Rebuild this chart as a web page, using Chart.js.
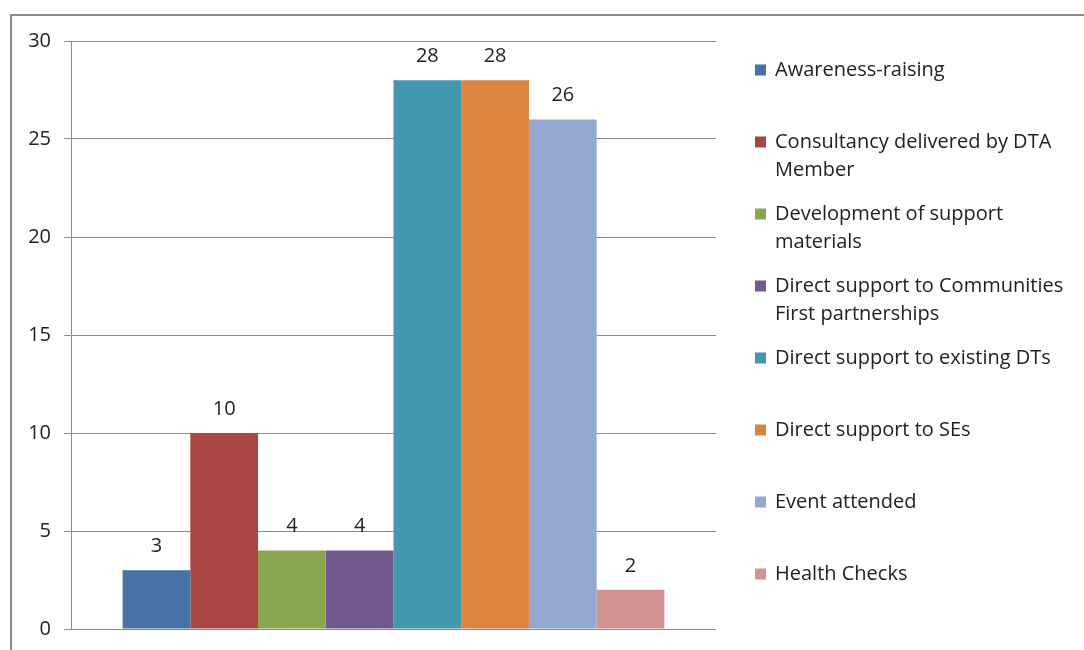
<!DOCTYPE html>
<html>
<head>
<meta charset="utf-8">
<script src="https://cdn.jsdelivr.net/npm/chart.js@4.4.1/dist/chart.umd.min.js"></script>
<style>
    body { margin: 0; background: #fff; overflow: hidden; }
    #wrap { position: relative; width: 1084px; height: 650px; }
    #frame {
        position: absolute; left: 10px; top: 14px; width: 1200px; height: 800px;
        border-top: 2px solid #8a8a8a; border-left: 2px solid #8a8a8a;
    }
    #chart { position: absolute; left: 0; top: 0; }
</style>
</head>
<body>
<div id="wrap">
    <div id="frame"></div>
    <canvas id="chart" width="1084" height="650"></canvas>
</div>
<script>
// Data
const activities = [
    'Awareness-raising',
    'Consultancy delivered by DTA Member',
    'Development of support materials',
    'Direct support to Communities First partnerships',
    'Direct support to existing DTs',
    'Direct support to SEs',
    'Event attended',
    'Health Checks'
];
const counts = [3, 10, 4, 4, 28, 28, 26, 2];
const barColors = ['#4572A7', '#AA4643', '#89A54E', '#71588F', '#4198AF', '#DB843D', '#93A9CF', '#D19392'];
const yTicks = [0, 5, 10, 15, 20, 25, 30];

const FONT = '"Open Sans", sans-serif';
const FONT_SIZE = 20;
const TEXT_COLOR = '#222';

// Value labels above each bar
const valueLabels = {
    id: 'valueLabels',
    afterDatasetsDraw(chart) {
        const ctx = chart.ctx;
        ctx.save();
        ctx.font = FONT_SIZE + 'px ' + FONT;
        ctx.fillStyle = TEXT_COLOR;
        ctx.textAlign = 'center';
        ctx.textBaseline = 'middle';
        chart.data.datasets.forEach((ds, i) => {
            const bar = chart.getDatasetMeta(i).data[0];
            ctx.fillText(ds.data[0], bar.x, bar.y - 24);
        });
        ctx.restore();
    }
};

// Excel style legend on the right
const sideLegend = {
    id: 'sideLegend',
    afterDraw(chart) {
        const ctx = chart.ctx;
        const left = 755, textX = 775, maxW = 302;
        ctx.save();
        ctx.font = FONT_SIZE + 'px ' + FONT;
        ctx.textBaseline = 'middle';
        chart.data.datasets.forEach((ds, i) => {
            const y = 70 + 72 * i;
            ctx.fillStyle = ds.backgroundColor;
            ctx.fillRect(left, y - 5.5, 11, 11);

            // wrap words
            let lines = [], cur = '';
            ds.label.split(' ').forEach(w => {
                const test = cur ? cur + ' ' + w : w;
                if (ctx.measureText(test).width > maxW && cur) {
                    lines.push(cur);
                    cur = w;
                } else {
                    cur = test;
                }
            });
            lines.push(cur);

            ctx.fillStyle = TEXT_COLOR;
            lines.forEach((ln, k) => ctx.fillText(ln, textX, y + k * 28));
        });
        ctx.restore();
    }
};

new Chart(document.getElementById('chart'), {
    type: 'bar',
    data: {
        labels: [''],
        datasets: activities.map((name, i) => ({
            label: name,
            data: [counts[i]],
            backgroundColor: barColors[i],
            borderWidth: 0,
            categoryPercentage: 0.84,
            barPercentage: 1
        }))
    },
    options: {
        responsive: false,
        devicePixelRatio: 1,
        animation: false,
        layout: { padding: { left: 0, top: 41, right: 368, bottom: 21 } },
        plugins: {
            legend: { display: false },
            tooltip: { enabled: false }
        },
        scales: {
            x: { display: false },
            y: {
                min: 0,
                max: 30,
                afterFit(scale) {
                    scale.width = 71;
                    scale.paddingTop = 0;
                    scale.paddingBottom = 0;
                },
                afterBuildTicks(scale) { scale.ticks = yTicks.map(v => ({ value: v })); },
                border: { display: true, color: '#8c8c8c', width: 1 },
                grid: { color: '#8c8c8c', lineWidth: 1, drawTicks: true, tickLength: 7, tickColor: '#8c8c8c' },
                ticks: {
                    padding: 13,
                    color: TEXT_COLOR,
                    font: { family: FONT, size: FONT_SIZE }
                }
            }
        }
    },
    plugins: [valueLabels, sideLegend]
});
</script>
</body>
</html>
